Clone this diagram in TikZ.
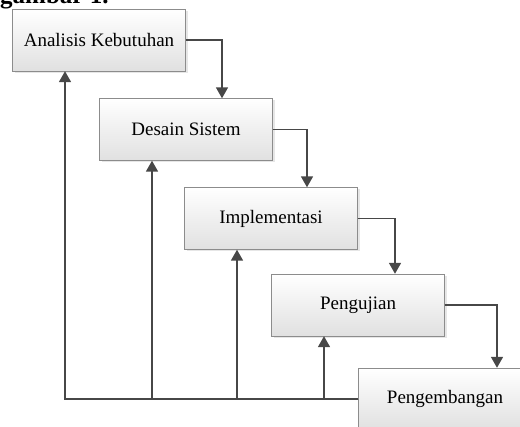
\documentclass[tikz,border=0pt]{standalone}
\usepackage{fontspec}
\setmainfont{Liberation Serif}
\usetikzlibrary{arrows.meta,shadows}

\begin{document}
\begin{tikzpicture}[x=1pt,y=-1pt,
  tahap/.style={draw=black!45, top color=white, bottom color=black!12,
    minimum width=173pt, minimum height=62pt,
    drop shadow={opacity=0.2,shadow xshift=2pt,shadow yshift=-2pt},
    font=\fontsize{19}{21}\selectfont},
  panah/.style={draw=black!72, line width=1.6pt,
    -{Triangle[width=12pt,length=11pt]}}]
\useasboundingbox (0,0) rectangle (520,427);
\clip (0,0) rectangle (520,427);
% judul yang terpotong
\node[anchor=base west, inner sep=0pt, font=\fontsize{25}{25}\selectfont\bfseries] (judul) at (0,4) {gambar 1.};
% tahapan
\node[tahap] (analisis) at (99,40) {Analisis Kebutuhan};
\node[tahap] (desain) at (186,129.5) {Desain Sistem};
\node[tahap] (implementasi) at (271,218.5) {Implementasi};
\node[tahap] (pengujian) at (358,305) {Pengujian};
\node[tahap] (pengembangan) at (445,399) {Pengembangan};
% alur ke bawah
\draw[panah] (analisis.east) -| ([xshift=36pt]desain.north);
\draw[panah] (desain.east) -| ([xshift=36pt]implementasi.north);
\draw[panah] (implementasi.east) -| ([xshift=37pt]pengujian.north);
\draw[panah] (pengujian.east) -| ([xshift=52pt]pengembangan.north);
% umpan balik
\foreach \n in {analisis,desain,implementasi,pengujian}
  \draw[panah] (pengembangan.west) -| ([xshift=-34pt]\n.south);
\end{tikzpicture}
\end{document}
